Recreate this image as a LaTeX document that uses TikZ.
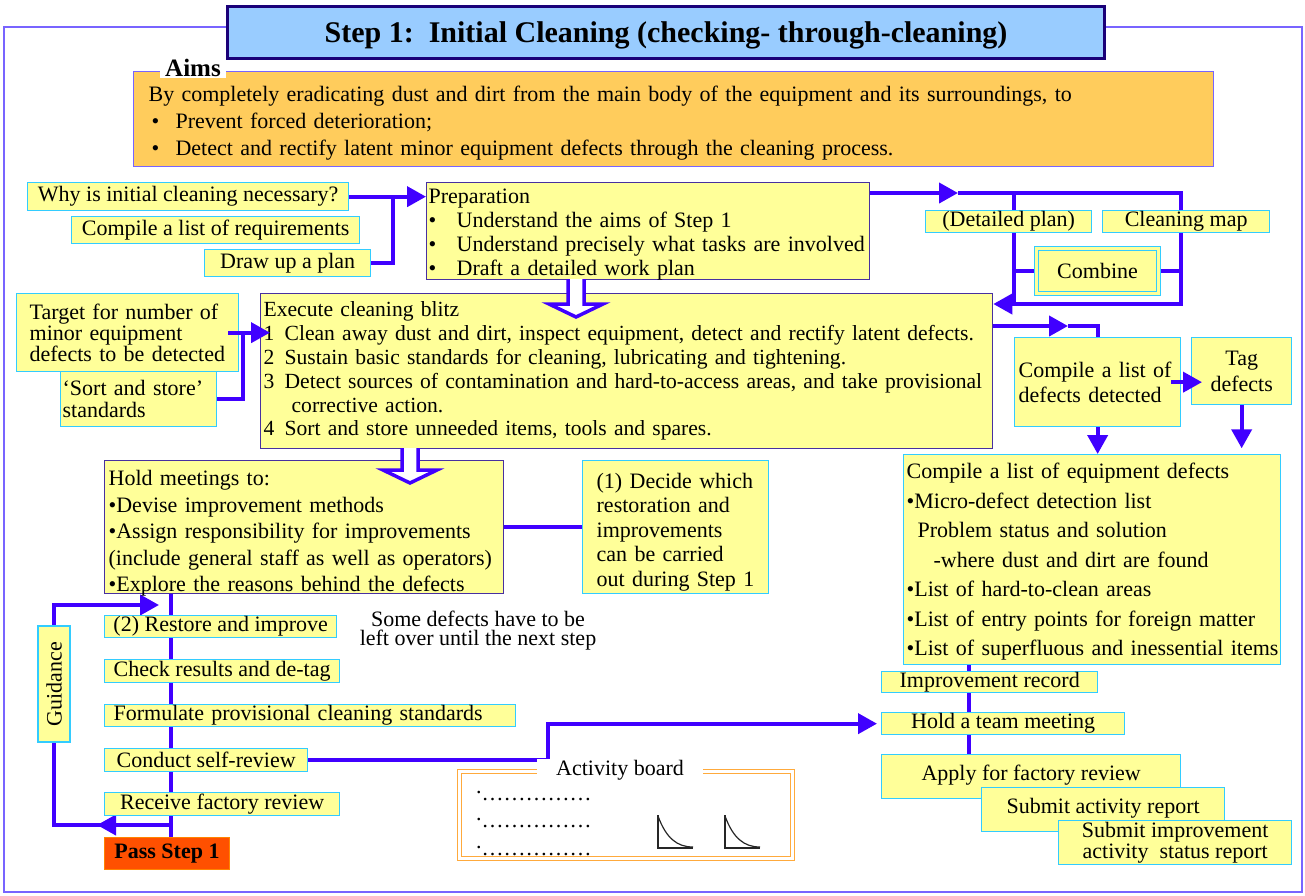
\documentclass[tikz,border=0pt]{standalone}
\usepackage{fontspec}
\setmainfont{Liberation Serif}
\usetikzlibrary{arrows.meta,calc,backgrounds}
\definecolor{yel}{RGB}{255,255,153}
\definecolor{cyb}{RGB}{51,204,255}
\definecolor{pur}{RGB}{72,48,160}
\definecolor{cb}{RGB}{64,0,255}
\definecolor{frm}{RGB}{120,100,255}
\definecolor{ttl}{RGB}{153,204,255}
\definecolor{nav}{RGB}{26,0,120}
\definecolor{aimc}{RGB}{255,204,92}
\definecolor{pas}{RGB}{255,80,0}
\definecolor{org}{RGB}{255,170,60}
\newcommand\harrow[4]{\draw[hol] ({#1-8},#2) -- ({#1-8},#3) -- ({#1-27},#3) -- (#1,#4) -- ({#1+27},#3) -- ({#1+8},#3) -- ({#1+8},#2);}
\newcommand\bigbul{•}
\begin{document}
\begin{tikzpicture}[x=1pt,y=-1pt,
  bx/.style={draw=cyb, fill=yel, line width=1.3pt, inner xsep=3pt, inner ysep=0pt, anchor=north west, font=\fontsize{22}{24}\selectfont},
  pbx/.style={bx, draw=pur},
  conn/.style={draw=cb, line width=4pt},
  arr/.style={-{Triangle[length=19pt,width=20pt]}},
  hol/.style={draw=cb, fill=white, line width=3.5pt, line join=miter}]
\useasboundingbox (0,0) rectangle (1305,895);

% title and aims
\node[draw=nav, fill=ttl, line width=3pt, anchor=north west, minimum width=877pt, minimum height=52pt, inner sep=0pt, text depth=-2pt, font=\fontsize{30}{32}\selectfont\bfseries] (title) at (226,5) {Step 1:\ \ Initial Cleaning (checking- through-cleaning)};
\node[draw=frm, fill=aimc, line width=1.2pt, anchor=north west, minimum width=1080pt, minimum height=95pt, inner xsep=15pt, inner ysep=0pt, text width=1050pt, align=left, text depth=50.8pt, font=\fontsize{22}{27}\selectfont] (aims) at (133,71) {By completely eradicating dust and dirt from the main body of the equipment and its surroundings, to\\ \hspace*{3pt}\makebox[24pt][l]{\bigbul}Prevent forced deterioration;\\ \hspace*{3pt}\makebox[24pt][l]{\bigbul}Detect and rectify latent minor equipment defects through the cleaning process.};
\node[fill=white, inner xsep=5pt, inner ysep=1pt, font=\fontsize{25}{27}\selectfont\bfseries] (aimslbl) at (193,68) {Aims};

% preparation area
\node[bx, minimum width=321pt, minimum height=28pt] (why) at (27,182) {Why is initial cleaning necessary?};
\node[bx, minimum width=288pt, minimum height=27pt] (creq) at (71,216) {Compile a list of requirements};
\node[bx, minimum width=166pt, minimum height=27pt] (dplan) at (204,249) {Draw up a plan};
\node[pbx, minimum width=443pt, minimum height=97pt, inner xsep=2pt, text width=439pt, align=left, text depth=70.8pt] (prep) at (426,182) {Preparation\\ \makebox[28pt][l]{\bigbul}Understand the aims of Step 1\\ \makebox[28pt][l]{\bigbul}Understand precisely what tasks are involved\\ \makebox[28pt][l]{\bigbul}Draft a detailed work plan};
\node[bx, minimum width=166pt, minimum height=22pt] (dpl) at (925,210) {(Detailed plan)};
\node[bx, minimum width=167pt, minimum height=22pt] (cmap) at (1102,210) {Cleaning map};
\node[bx, minimum width=122pt, minimum height=45pt, double=yel, double distance=2.5pt, line width=1.1pt] (comb) at (1036,248) {Combine};

% execute
\node[pbx, minimum width=732pt, minimum height=155pt, text width=726pt, align=left, font=\fontsize{21.6}{23.8}\selectfont] (exec) at (260,293) {Execute cleaning blitz\\ \mbox{\makebox[21pt][l]{1}Clean away dust and dirt, inspect equipment, detect and rectify latent defects.}\\ \mbox{\makebox[21pt][l]{2}Sustain basic standards for cleaning, lubricating and tightening.}\\ \mbox{\makebox[21pt][l]{3}Detect sources of contamination and hard-to-access areas, and take provisional}\\ \hspace*{28pt}corrective action.\\ \mbox{\makebox[21pt][l]{4}Sort and store unneeded items, tools and spares.}};
\node[bx, minimum width=222pt, minimum height=78pt, inner xsep=13pt, text width=196pt, align=left, font=\fontsize{22}{21}\selectfont] (tgt) at (16,293) {Target for number of\\ minor equipment\\ defects to be detected};
\node[bx, minimum width=156pt, minimum height=55pt, inner xsep=2pt, text width=152pt, align=left, font=\fontsize{22}{22}\selectfont] (sort) at (60,371) {‘Sort and store’\\ standards};
\node[bx, minimum width=166pt, minimum height=89pt, inner xsep=4pt, text width=158pt, align=left, font=\fontsize{22}{25}\selectfont] (cdef) at (1014,337) {Compile a list of\\ defects detected};
\node[bx, minimum width=100pt, minimum height=67pt, align=center, font=\fontsize{22}{26}\selectfont] (tag) at (1191,337) {Tag\\ defects};
\node[bx, minimum width=377pt, minimum height=210pt, text width=371pt, align=left, text depth=177.8pt, font=\fontsize{22}{29.5}\selectfont] (equip) at (903,454) {Compile a list of equipment defects\\ •Micro-defect detection list\\ \hspace*{11pt}Problem status and solution\\ \hspace*{27pt}-where dust and dirt are found\\ •List of hard-to-clean areas\\ \mbox{•List of entry points for foreign matter}\\ \mbox{•List of superfluous and inessential items}};

% meetings
\node[pbx, minimum width=399pt, minimum height=133pt, inner xsep=4pt, text width=391pt, align=left, text depth=97.8pt, font=\fontsize{22}{26.5}\selectfont] (hold) at (104,460) {Hold meetings to:\\ •Devise improvement methods\\ •Assign responsibility for improvements\\ \mbox{(include general staff as well as operators)}\\ •Explore the reasons behind the defects};
\node[bx, minimum width=186pt, minimum height=133pt, inner xsep=14pt, text width=158pt, align=left, text depth=92.8pt, font=\fontsize{22}{24.5}\selectfont] (dec) at (582,460) {(1) Decide which\\ restoration and\\ improvements\\ can be carried\\ out during Step 1};

% left column
\node[bx, minimum width=232pt, minimum height=22pt] (rest) at (104,615) {(2) Restore and improve};
\node[bx, minimum width=235pt, minimum height=23pt] (chk) at (104,659) {Check results and de-tag};
\node[bx, minimum width=411pt, minimum height=22pt, inner xsep=9pt, text width=393pt, align=left] (form) at (104,704) {Formulate provisional cleaning standards};
\node[bx, minimum width=203pt, minimum height=23pt] (cond) at (104,748) {Conduct self-review};
\node[bx, minimum width=235pt, minimum height=23pt] (recv) at (104,792) {Receive factory review};
\node[bx, fill=pas, draw=pas!70!yellow, line width=1pt, minimum width=125pt, minimum height=32pt, font=\fontsize{22}{24}\selectfont\bfseries] (pass) at (104,837) {Pass Step 1};
\node[bx, anchor=center, rotate=90, minimum width=116pt, minimum height=32pt] (guid) at (54,684) {Guidance};
\node[align=center, inner sep=0pt, font=\fontsize{22}{19}\selectfont] (note) at (478,631) {Some defects have to be\\ left over until the next step};

% right column
\node[bx, minimum width=216pt, minimum height=21pt] (imp) at (881,671) {Improvement record};
\node[bx, minimum width=243pt, minimum height=22pt] (htm) at (881,712) {Hold a team meeting};
\node[bx, minimum width=299pt, minimum height=44pt, text depth=8pt] (apply) at (881,754) {Apply for factory review};
\node[bx, minimum width=243pt, minimum height=44pt, text depth=8pt] (sar) at (981,787) {Submit activity report};
\node[bx, minimum width=233pt, minimum height=44pt, align=center, font=\fontsize{22}{18}\selectfont] (sir) at (1058,820) {Submit improvement\\ activity\ \ status report};

% activity board
\node[draw=org, line width=1.1pt, double=white, double distance=2.2pt, anchor=north west, minimum width=333pt, minimum height=87pt] (board) at (459,771) {};
\node[fill=white, minimum width=166pt, inner ysep=1pt, font=\fontsize{22}{24}\selectfont] (blab) at (620,770) {Activity board};
\node[anchor=base west, inner sep=0pt, font=\fontsize{22}{24}\selectfont] (d1) at (476,800) {\raisebox{7pt}{.}……………};
\node[anchor=base west, inner sep=0pt, font=\fontsize{22}{24}\selectfont] (d2) at (476,827) {\raisebox{7pt}{.}……………};
\node[anchor=base west, inner sep=0pt, font=\fontsize{22}{24}\selectfont] (d3) at (476,855) {\raisebox{7pt}{.}……………};
\draw[line width=1.2pt, black!85] (658,815) -- (658,848) -- (693,848);
\draw[line width=1.2pt, black!85] (658,816) .. controls (666,838) and (677,847) .. (693,847);
\draw[line width=1.2pt, black!85] (725,815) -- (725,848) -- (760,848);
\draw[line width=1.2pt, black!85] (725,816) .. controls (733,838) and (744,847) .. (760,847);

% coordinates for connectors
\coordinate (j1) at (393,0);
\coordinate (pa) at (958,193);
\coordinate (pr) at (1181,193);
\coordinate (pl) at (1014,193);
\coordinate (br) at (1181,304);
\coordinate (bl) at (1014,304);
\coordinate (tj) at (243,0);
\coordinate (ea) at (1068,326);
\coordinate (sp) at (171,0);
\coordinate (ga) at (159,605);
\coordinate (gb) at (97,825);
\coordinate (cj) at (548,0);
\coordinate (rs) at (969,0);

% connectors on top of boxes
\draw[conn,arr] ([xshift=-11pt]tgt.east) -- ([xshift=10pt]tgt.east -| exec.west);
\draw[conn,arr] ([xshift=-10pt]cdef.east) -- ([xshift=11pt]tag.west |- cdef.east);
\harrow{576}{279}{304}{317}
\harrow{410}{448}{470}{483}

\begin{scope}[on background layer]
\draw[frm, line width=1.5pt] (4,27) rectangle (1302,892);
\draw[conn,arr] (why.east) -- (why.east -| prep.west);
\draw[conn] (dplan.east) -| (j1 |- why.east);
\draw[conn,arr] (prep.east |- pa) -- (pa);
\draw[conn,arr] (pa) -- (pr) -- (br) -- (br -| exec.east);
\draw[conn] (pl) -- (bl);
\draw[conn] (comb.west) -- (comb.west -| pl);
\draw[conn] (comb.east) -- (comb.east -| pr);
\draw[conn] (sort.east) -| (tj |- tgt.east);
\draw[conn,arr] (exec.east |- ea) -- (ea);
\draw[conn] (ea) -| (cdef.north);
\draw[conn,arr] (cdef.south) -- (cdef.south |- equip.north);
\draw[conn,arr] (tag.south) -- ++(0,43);
\draw[conn] (hold.east) -- (dec.west);
\draw[conn] (hold.south -| sp) -- (pass.north -| sp);
\draw[conn,arr] (guid.east) |- (ga);
\draw[conn] (guid.west) |- (sp |- gb);
\draw[conn,arr] (sp |- gb) -- (gb);
\draw[conn,arr] (cond.east) -- (cond.east -| cj) |- ([xshift=-4pt]htm.west);
\draw[conn] (equip.south -| rs) -- (apply.north -| rs);
\end{scope}
\end{tikzpicture}
\end{document}
